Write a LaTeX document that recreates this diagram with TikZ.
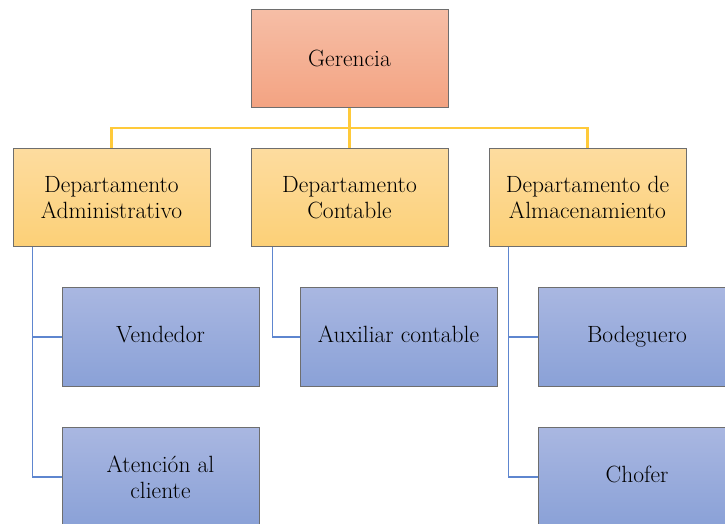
\documentclass[tikz,border=0pt]{standalone}
\usetikzlibrary{positioning, calc}

\definecolor{gerTop}{HTML}{F6BEA6}
\definecolor{gerBot}{HTML}{F3A382}
\definecolor{depTop}{HTML}{FDDC9F}
\definecolor{depBot}{HTML}{FCD077}
\definecolor{puesTop}{HTML}{A9B7E1}
\definecolor{puesBot}{HTML}{8AA1D7}
\definecolor{lineaAmarilla}{HTML}{FFCA3A}
\definecolor{lineaAzul}{HTML}{5E86CF}
\definecolor{borde}{HTML}{6E6E6E}

\tikzset{
  caja/.style={draw=borde, line width=1pt, minimum width=197pt, minimum height=98pt,
    inner sep=2pt, align=center, font=\rmfamily\fontsize{23.5}{26}\selectfont},
  gerencia/.style={caja, top color=gerTop, bottom color=gerBot},
  depto/.style={caja, top color=depTop, bottom color=depBot},
  puesto/.style={caja, minimum height=99pt, top color=puesTop, bottom color=puesBot},
  amarilla/.style={draw=lineaAmarilla, line width=2.5pt},
  azul/.style={draw=lineaAzul, line width=1.8pt}
}

\begin{document}
\begin{tikzpicture}[x=1pt, y=-1pt, node distance=40pt]
      \useasboundingbox (0,0) rectangle (725,523);
      \clip (0,0) rectangle (725,523);

      \node[depto] (adm) at (111.5,197.5) {Departamento\\Administrativo};
      \node[depto, right=40pt of adm] (cont) {Departamento\\Contable};
      \node[depto, right=40pt of cont] (alm) {Departamento de\\Almacenamiento};
      \node[gerencia, above=40pt of cont] (ger) {Gerencia};

      \node[puesto, below=40pt of adm, xshift=49pt] (vend) {\strut Vendedor};
      \node[puesto, below=40pt of vend] (aten) {Atención al\\cliente};
      \node[puesto, below=40pt of cont, xshift=49pt] (aux) {\strut Auxiliar contable};
      \node[puesto, below=40pt of alm, xshift=49.5pt] (bod) {\strut Bodeguero};
      \node[puesto, below=40pt of bod] (chof) {\strut Chofer};

      % lineas de mando
      \coordinate (bus) at ($(ger.south)!0.5!(cont.north)$);
      \draw[amarilla] (ger.south) -- (cont.north);
      \draw[amarilla] (adm.north) |- (bus) -| (alm.north);

      \draw[azul] ([xshift=20pt]adm.south west) |- (vend.west);
      \draw[azul] ([xshift=20pt]adm.south west) |- (aten.west);
      \draw[azul] ([xshift=22pt]cont.south west) |- (aux.west);
      \draw[azul] ([xshift=20pt]alm.south west) |- (bod.west);
      \draw[azul] ([xshift=20pt]alm.south west) |- (chof.west);
    \end{tikzpicture}
\end{document}
